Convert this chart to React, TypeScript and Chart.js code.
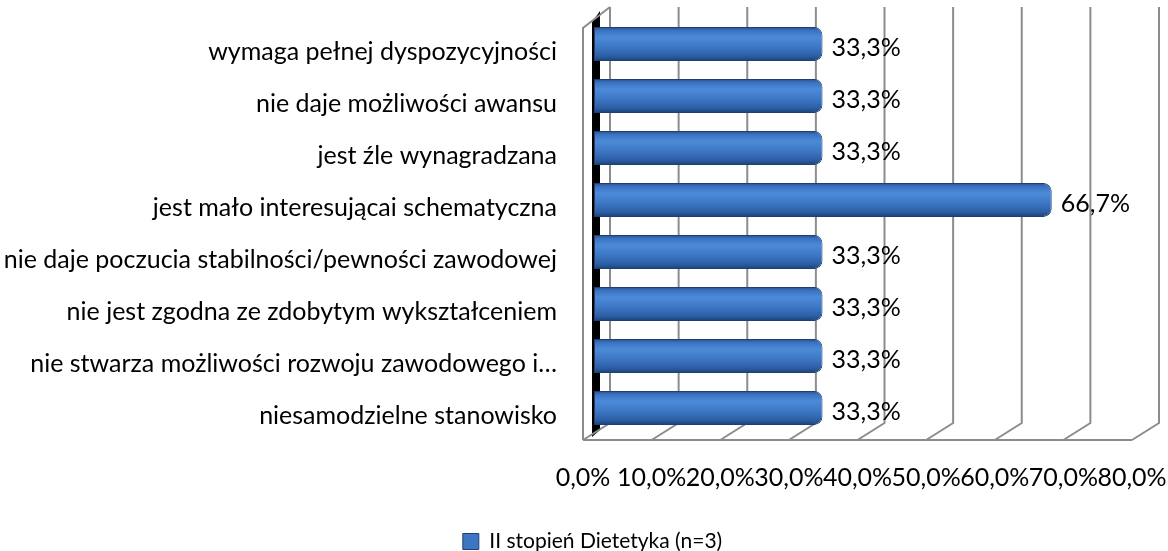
import React, { useEffect, useRef } from "react";
import { Chart, registerables } from "chart.js";

Chart.register(...registerables);

const categories: string[] = [
  "wymaga pełnej dyspozycyjności",
  "nie daje możliwości awansu",
  "jest źle wynagradzana",
  "jest mało interesującai schematyczna",
  "nie daje poczucia stabilności/pewności zawodowej",
  "nie jest zgodna ze zdobytym wykształceniem",
  "nie stwarza możliwości rozwoju zawodowego i…",
  "niesamodzielne stanowisko",
];

const seriesName = "II stopień Dietetyka (n=3)";
const seriesValues: number[] = [33.3, 33.3, 33.3, 66.7, 33.3, 33.3, 33.3, 33.3];

const axisMin = 0;
const axisMax = 80;
const axisStep = 10;

const FONT = "Lato";
const FSIZE = 25;
const LEGEND_FSIZE = 21;
const BAR_PCT = 0.65;
const fmt = (v: number) => v.toFixed(1).replace(".", ",") + "%";

// 3D depth offsets relative to the plotting plane
const FRONT_DX = -11;
const FRONT_DY = 6;
const BACK_DX = 16;
const BACK_DY = -11;
const LEGEND_SHIFT = 21;

const makeGradient = (ctx: CanvasRenderingContext2D, y0: number, h: number) => {
  const g = ctx.createLinearGradient(0, y0, 0, y0 + h);
  g.addColorStop(0, "#24508c");
  g.addColorStop(0.1, "#3a72c0");
  g.addColorStop(0.3, "#4c8ad8");
  g.addColorStop(0.55, "#3f7ac8");
  g.addColorStop(0.85, "#2d5fa6");
  g.addColorStop(1, "#1d4177");
  return g;
};

const barFill = (c: any) => {
  const chart = c.chart;
  const ys = chart.scales && chart.scales.y;
  if (!ys || c.dataIndex === undefined || !isFinite(ys.getPixelForValue(0))) return "#3d72bd";
  const center = ys.getPixelForValue(c.dataIndex);
  const band = Math.abs(ys.getPixelForValue(1) - ys.getPixelForValue(0));
  const h = band * BAR_PCT;
  return makeGradient(chart.ctx, center - h / 2, h);
};

const box3dPlugin = {
  id: "box3d",
  afterLayout(chart: any) {
    if (chart.legend) {
      chart.legend.left += LEGEND_SHIFT;
      chart.legend.right += LEGEND_SHIFT;
    }
  },
  beforeDatasetsDraw(chart: any) {
    const { ctx, chartArea, scales } = chart;
    const xs = scales.x;
    const top = chartArea.top;
    const bottom = chartArea.bottom;
    ctx.save();
    const x0 = xs.getPixelForValue(axisMin);
    // left wall dark strip
    ctx.fillStyle = "#000";
    ctx.beginPath();
    ctx.moveTo(x0 - 2, top + 4);
    ctx.lineTo(x0 + 6, top - 7);
    ctx.lineTo(x0 + 6, bottom - 4);
    ctx.lineTo(x0 - 2, bottom + 3);
    ctx.closePath();
    ctx.fill();

    ctx.strokeStyle = "#8c8c8c";
    ctx.lineWidth = 2;
    for (let v = axisMin; v <= axisMax + 1e-9; v += axisStep) {
      const p = xs.getPixelForValue(v);
      ctx.beginPath();
      ctx.moveTo(p + BACK_DX, top + BACK_DY);
      ctx.lineTo(p + BACK_DX, bottom + BACK_DY);
      ctx.lineTo(p + FRONT_DX, bottom + FRONT_DY);
      ctx.stroke();
    }
    // floor front edge
    ctx.beginPath();
    ctx.moveTo(x0 + FRONT_DX, bottom + FRONT_DY);
    ctx.lineTo(xs.getPixelForValue(axisMax) + FRONT_DX, bottom + FRONT_DY);
    ctx.stroke();
    // left wall front edge + top edge
    ctx.beginPath();
    ctx.moveTo(x0 + FRONT_DX, bottom + FRONT_DY);
    ctx.lineTo(x0 + FRONT_DX, top + 10);
    ctx.lineTo(x0 + BACK_DX, top + BACK_DY);
    ctx.stroke();
    ctx.restore();
  },
  afterDatasetsDraw(chart: any) {
    const { ctx } = chart;
    const meta = chart.getDatasetMeta(0);
    ctx.save();
    ctx.font = `${FSIZE}px ${FONT}`;
    ctx.fillStyle = "#000";
    ctx.textAlign = "left";
    ctx.textBaseline = "middle";
    meta.data.forEach((bar: any, i: number) => {
      ctx.fillText(fmt(seriesValues[i]), bar.x + 9, bar.y + 4);
    });
    ctx.restore();
  },
};

export default function App() {
  const ref = useRef<HTMLCanvasElement | null>(null);
  useEffect(() => {
    if (!ref.current) return;
    const chart = new Chart(ref.current, {
      type: "bar",
      data: {
        labels: categories,
        datasets: [
          {
            label: seriesName,
            data: seriesValues,
            backgroundColor: barFill,
            borderColor: "#1f3f73",
            borderWidth: 1,
            borderSkipped: false,
            borderRadius: { topLeft: 0, bottomLeft: 0, topRight: 8, bottomRight: 8 },
            barPercentage: BAR_PCT,
            categoryPercentage: 1,
          },
        ],
      },
      options: {
        indexAxis: "y",
        responsive: false,
        animation: false,
        layout: { padding: { left: 0, right: 25, top: 18, bottom: -11 } },
        scales: {
          x: {
            min: axisMin,
            max: axisMax,
            grid: { display: false, drawTicks: false },
            border: { display: false },
            ticks: {
              stepSize: axisStep,
              padding: 29,
              labelOffset: FRONT_DX,
              maxRotation: 0,
              autoSkip: false,
              color: "#000",
              font: { family: FONT, size: FSIZE },
              callback: (v: any) => fmt(Number(v)),
            },
            afterFit: (s: any) => {
              s.height = 87;
              s.paddingLeft = 0;
              s.paddingRight = 0;
            },
          },
          y: {
            grid: { display: false, drawTicks: false },
            border: { display: false },
            ticks: {
              padding: 37,
              labelOffset: 8,
              color: "#000",
              autoSkip: false,
              font: { family: FONT, size: FSIZE },
            },
            afterFit: (s: any) => {
              s.width = 594;
              s.paddingTop = 0;
              s.paddingBottom = 0;
            },
          },
        },
        plugins: {
          legend: {
            position: "bottom",
            labels: {
              color: "#000",
              font: { family: FONT, size: LEGEND_FSIZE },
              boxWidth: 16,
              boxHeight: 16,
              padding: 10,
              generateLabels: () => [
                {
                  text: seriesName,
                  fillStyle: "#3d75c2",
                  strokeStyle: "#1f3f73",
                  lineWidth: 1,
                  hidden: false,
                  datasetIndex: 0,
                },
              ],
            },
          },
          tooltip: { enabled: false },
        },
      },
      plugins: [box3dPlugin],
    });
    return () => chart.destroy();
  }, []);
  return (
    <div style={{ position: "fixed", left: 0, top: 0, width: 1168, height: 551, background: "#fff" }}>
      <canvas ref={ref} width={1168} height={551} style={{ display: "block" }} />
    </div>
  );
}
